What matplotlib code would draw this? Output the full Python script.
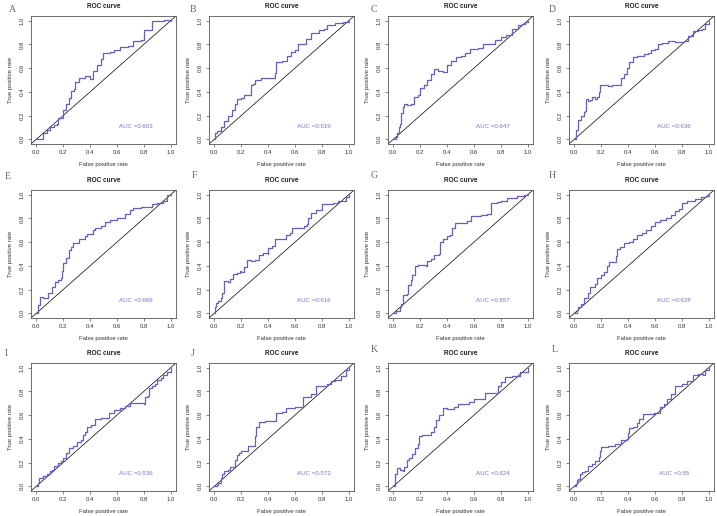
import matplotlib
matplotlib.use("Agg")
import matplotlib.pyplot as plt

W, H = 717, 516
fig = plt.figure(figsize=(W / 100, H / 100), dpi=100)
fig.patch.set_facecolor("white")

letters = ["A", "B", "C", "D", "E", "F", "G", "H", "I", "J", "K", "L"]
auc_labels = ["AUC =0.603", "AUC =0.619", "AUC =0.647", "AUC =0.636",
              "AUC =0.669", "AUC =0.616", "AUC =0.657", "AUC =0.628",
              "AUC =0.536", "AUC =0.572", "AUC =0.624", "AUC =0.55"]

fpr_A = [0, 0.05, 0.05, 0.08, 0.10, 0.13, 0.15, 0.16, 0.20, 0.22, 0.24, 0.26, 0.28, 0.29, 0.32, 0.36, 0.40, 0.42, 0.45, 0.48, 0.50, 0.55, 0.58, 0.62, 0.68, 0.72, 0.78, 0.80, 0.84, 0.86, 0.93, 0.95, 1.0]
tpr_A = [0, 0.00, 0.05, 0.08, 0.10, 0.12, 0.13, 0.18, 0.25, 0.30, 0.35, 0.41, 0.42, 0.48, 0.52, 0.53, 0.51, 0.58, 0.63, 0.68, 0.73, 0.74, 0.75, 0.78, 0.79, 0.83, 0.84, 0.92, 0.92, 1.00, 1.00, 1.01, 1.0]

fpr_B = [0, 0.005, 0.02, 0.05, 0.07, 0.10, 0.13, 0.15, 0.17, 0.20, 0.22, 0.26, 0.27, 0.29, 0.30, 0.35, 0.40, 0.45, 0.46, 0.50, 0.54, 0.57, 0.60, 0.62, 0.66, 0.68, 0.72, 0.78, 0.82, 0.84, 0.90, 0.96, 1.0]
tpr_B = [0, 0.05, 0.07, 0.10, 0.15, 0.20, 0.25, 0.30, 0.34, 0.35, 0.37, 0.37, 0.46, 0.47, 0.50, 0.52, 0.52, 0.56, 0.65, 0.66, 0.70, 0.74, 0.75, 0.80, 0.80, 0.85, 0.90, 0.92, 0.93, 0.96, 0.98, 0.99, 1.0]

fpr_C = [0, 0.02, 0.03, 0.04, 0.05, 0.06, 0.07, 0.08, 0.10, 0.13, 0.15, 0.18, 0.20, 0.23, 0.25, 0.28, 0.30, 0.33, 0.37, 0.40, 0.43, 0.47, 0.50, 0.53, 0.57, 0.63, 0.67, 0.72, 0.76, 0.80, 0.84, 0.88, 0.93, 0.96, 0.98, 1.0]
tpr_C = [0, 0.02, 0.05, 0.10, 0.13, 0.22, 0.27, 0.30, 0.29, 0.30, 0.36, 0.37, 0.43, 0.46, 0.50, 0.55, 0.59, 0.58, 0.57, 0.63, 0.66, 0.69, 0.70, 0.73, 0.76, 0.77, 0.80, 0.80, 0.84, 0.86, 0.88, 0.93, 0.96, 0.97, 0.99, 1.0]

fpr_D = [0, 0.01, 0.015, 0.03, 0.03, 0.05, 0.07, 0.08, 0.085, 0.10, 0.12, 0.13, 0.15, 0.17, 0.18, 0.19, 0.22, 0.25, 0.28, 0.33, 0.35, 0.37, 0.39, 0.41, 0.44, 0.47, 0.50, 0.52, 0.55, 0.57, 0.60, 0.62, 0.65, 0.70, 0.75, 0.80, 0.82, 0.85, 0.88, 0.92, 0.95, 0.97, 1.0]
tpr_D = [0, 0.03, 0.08, 0.10, 0.16, 0.20, 0.23, 0.24, 0.34, 0.32, 0.33, 0.36, 0.34, 0.36, 0.40, 0.46, 0.46, 0.45, 0.46, 0.46, 0.52, 0.55, 0.60, 0.65, 0.69, 0.70, 0.70, 0.72, 0.73, 0.75, 0.76, 0.80, 0.81, 0.83, 0.82, 0.82, 0.83, 0.87, 0.91, 0.92, 0.93, 0.97, 1.0]

fpr_E = [0, 0.01, 0.015, 0.03, 0.03, 0.05, 0.08, 0.09, 0.12, 0.14, 0.16, 0.18, 0.19, 0.20, 0.22, 0.24, 0.26, 0.27, 0.30, 0.32, 0.36, 0.38, 0.42, 0.44, 0.48, 0.51, 0.55, 0.60, 0.65, 0.66, 0.70, 0.72, 0.78, 0.84, 0.86, 0.90, 0.94, 0.97, 0.97, 1.0]
tpr_E = [0, 0.02, 0.07, 0.08, 0.14, 0.13, 0.13, 0.17, 0.22, 0.26, 0.28, 0.30, 0.36, 0.42, 0.47, 0.53, 0.56, 0.59, 0.59, 0.63, 0.65, 0.67, 0.70, 0.72, 0.74, 0.77, 0.79, 0.80, 0.80, 0.84, 0.87, 0.89, 0.90, 0.90, 0.92, 0.93, 0.95, 0.98, 1.00, 1.0]

fpr_F = [0, 0.005, 0.01, 0.03, 0.05, 0.06, 0.07, 0.10, 0.12, 0.14, 0.17, 0.19, 0.20, 0.22, 0.24, 0.27, 0.30, 0.33, 0.36, 0.40, 0.40, 0.43, 0.45, 0.48, 0.53, 0.56, 0.58, 0.62, 0.67, 0.69, 0.70, 0.72, 0.76, 0.80, 0.88, 0.92, 0.98, 1.0]
tpr_F = [0, 0.05, 0.09, 0.10, 0.13, 0.17, 0.27, 0.26, 0.29, 0.33, 0.34, 0.36, 0.35, 0.39, 0.45, 0.44, 0.45, 0.49, 0.51, 0.50, 0.55, 0.57, 0.63, 0.63, 0.66, 0.68, 0.72, 0.72, 0.74, 0.75, 0.80, 0.85, 0.87, 0.92, 0.93, 0.95, 0.98, 1.0]

fpr_G = [0, 0.02, 0.05, 0.06, 0.07, 0.10, 0.11, 0.13, 0.14, 0.16, 0.18, 0.22, 0.24, 0.25, 0.28, 0.30, 0.34, 0.35, 0.37, 0.40, 0.42, 0.44, 0.46, 0.50, 0.55, 0.58, 0.65, 0.70, 0.73, 0.77, 0.80, 0.85, 0.90, 0.92, 0.97, 1.0]
tpr_G = [0, 0.02, 0.05, 0.08, 0.15, 0.16, 0.24, 0.28, 0.32, 0.40, 0.41, 0.41, 0.40, 0.44, 0.46, 0.49, 0.50, 0.60, 0.63, 0.65, 0.66, 0.72, 0.76, 0.76, 0.78, 0.82, 0.83, 0.84, 0.93, 0.94, 0.95, 0.97, 0.97, 0.99, 1.00, 1.0]

fpr_H = [0, 0.02, 0.03, 0.05, 0.07, 0.10, 0.12, 0.15, 0.17, 0.20, 0.22, 0.24, 0.26, 0.30, 0.31, 0.32, 0.34, 0.37, 0.41, 0.44, 0.47, 0.50, 0.53, 0.57, 0.60, 0.64, 0.68, 0.72, 0.75, 0.78, 0.80, 0.84, 0.90, 0.94, 0.98, 1.0]
tpr_H = [0, 0.03, 0.05, 0.08, 0.13, 0.17, 0.22, 0.25, 0.30, 0.32, 0.35, 0.40, 0.43, 0.43, 0.48, 0.54, 0.56, 0.59, 0.60, 0.63, 0.66, 0.68, 0.70, 0.74, 0.77, 0.79, 0.80, 0.83, 0.86, 0.88, 0.93, 0.95, 0.96, 0.98, 0.99, 1.0]

fpr_I = [0, 0.01, 0.02, 0.05, 0.08, 0.10, 0.12, 0.13, 0.16, 0.18, 0.20, 0.22, 0.24, 0.27, 0.30, 0.33, 0.35, 0.36, 0.38, 0.41, 0.44, 0.48, 0.51, 0.54, 0.58, 0.62, 0.66, 0.70, 0.75, 0.80, 0.81, 0.83, 0.84, 0.86, 0.88, 0.90, 0.93, 0.94, 0.97, 1.0]
tpr_I = [0, 0.03, 0.07, 0.09, 0.10, 0.13, 0.14, 0.17, 0.20, 0.21, 0.24, 0.28, 0.32, 0.34, 0.37, 0.39, 0.43, 0.46, 0.50, 0.52, 0.57, 0.58, 0.58, 0.62, 0.64, 0.66, 0.68, 0.70, 0.70, 0.69, 0.75, 0.76, 0.83, 0.85, 0.86, 0.90, 0.91, 0.94, 0.96, 1.0]

fpr_J = [0, 0.02, 0.03, 0.05, 0.06, 0.07, 0.10, 0.12, 0.14, 0.15, 0.17, 0.18, 0.20, 0.24, 0.25, 0.29, 0.30, 0.31, 0.33, 0.38, 0.44, 0.46, 0.50, 0.53, 0.60, 0.64, 0.66, 0.70, 0.72, 0.76, 0.80, 0.84, 0.87, 0.90, 0.94, 0.98, 1.0]
tpr_J = [0, 0.01, 0.03, 0.07, 0.10, 0.13, 0.14, 0.16, 0.16, 0.22, 0.26, 0.28, 0.30, 0.30, 0.34, 0.34, 0.42, 0.50, 0.54, 0.55, 0.55, 0.62, 0.63, 0.66, 0.67, 0.67, 0.75, 0.75, 0.78, 0.85, 0.85, 0.86, 0.89, 0.90, 0.93, 0.98, 1.0]

fpr_K = [0, 0.01, 0.015, 0.03, 0.05, 0.07, 0.08, 0.09, 0.10, 0.12, 0.14, 0.16, 0.18, 0.19, 0.21, 0.25, 0.28, 0.30, 0.32, 0.34, 0.37, 0.40, 0.43, 0.45, 0.48, 0.53, 0.56, 0.60, 0.66, 0.68, 0.72, 0.76, 0.78, 0.80, 0.83, 0.88, 0.94, 1.0]
tpr_K = [0, 0.04, 0.10, 0.15, 0.14, 0.13, 0.16, 0.16, 0.22, 0.24, 0.27, 0.32, 0.36, 0.42, 0.43, 0.43, 0.46, 0.50, 0.56, 0.60, 0.66, 0.65, 0.65, 0.67, 0.69, 0.69, 0.71, 0.74, 0.74, 0.79, 0.79, 0.79, 0.85, 0.88, 0.92, 0.93, 0.96, 1.0]

fpr_L = [0, 0.01, 0.02, 0.03, 0.04, 0.06, 0.08, 0.10, 0.13, 0.15, 0.18, 0.19, 0.20, 0.25, 0.30, 0.35, 0.39, 0.40, 0.41, 0.44, 0.47, 0.48, 0.51, 0.56, 0.59, 0.62, 0.64, 0.67, 0.69, 0.72, 0.75, 0.80, 0.84, 0.88, 0.92, 0.96, 0.97, 1.0]
tpr_L = [0, 0.02, 0.05, 0.06, 0.10, 0.12, 0.13, 0.17, 0.19, 0.21, 0.25, 0.30, 0.33, 0.34, 0.36, 0.39, 0.40, 0.45, 0.49, 0.50, 0.53, 0.57, 0.61, 0.61, 0.62, 0.62, 0.67, 0.69, 0.74, 0.78, 0.85, 0.86, 0.89, 0.94, 0.95, 0.94, 0.98, 1.0]

fprs = [fpr_A, fpr_B, fpr_C, fpr_D, fpr_E, fpr_F, fpr_G, fpr_H, fpr_I, fpr_J, fpr_K, fpr_L]
tprs = [tpr_A, tpr_B, tpr_C, tpr_D, tpr_E, tpr_F, tpr_G, tpr_H, tpr_I, tpr_J, tpr_K, tpr_L]
ticks = [0.0, 0.2, 0.4, 0.6, 0.8, 1.0]
tick_labels = ["0.0", "0.2", "0.4", "0.6", "0.8", "1.0"]

# layout in pixels
col_left = [31, 209, 388, 569]
row_top = [16, 190, 363]
box_w, box_h = 145, 128
letter_pos = [(9, 10), (190, 9), (371, 9), (549, 9),
              (5, 177), (192, 176), (371, 176), (549, 176),
              (5, 354), (191, 354), (371, 349), (552, 349)]

curve_col = "#6a5acd"
auc_col = "#7f70d0"
spine_col = "#555555"
sans = ["Liberation Sans", "DejaVu Sans"]

for i in range(12):
    r, c = divmod(i, 4)
    l = col_left[c] / W
    b = 1 - (row_top[r] + box_h) / H
    ax = fig.add_axes([l, b, box_w / W, box_h / H])
    ax.set_xlim(-0.04, 1.04)
    ax.set_ylim(-0.04, 1.04)
    ax.axline((0, 0), slope=1, color="black", lw=0.5)
    ax.plot(fprs[i], tprs[i], color=curve_col, lw=0.9, drawstyle="steps-post")
    ax.text(0.74, 0.11, auc_labels[i], color=auc_col, fontsize=4.4,
            ha="center", va="center", family=sans)
    ax.set_xticks(ticks)
    ax.set_yticks(ticks)
    ax.set_xticklabels(tick_labels, fontsize=4.3, family=sans, color="#333333")
    ax.set_yticklabels(tick_labels, fontsize=4.3, family=sans, color="#333333",
                       rotation=90, va="center")
    ax.tick_params(direction="out", length=2.5, width=0.5, colors=spine_col,
                   labelcolor="#333333", pad=2)
    for s in ax.spines.values():
        s.set_color(spine_col)
        s.set_linewidth(0.6)
    ax.set_xlabel("False positive rate", fontsize=4.3, family=sans,
                  color="#333333", labelpad=5)
    ax.set_ylabel("True positive rate", fontsize=4.3, family=sans,
                  color="#333333", labelpad=5)
    ax.set_title("ROC curve", fontsize=4.7, fontweight="bold", family=sans,
                 color="#222222", pad=6)
    lx, ly = letter_pos[i]
    fig.text(lx / W, 1 - ly / H, letters[i], fontsize=7, color="#666666",
             family=["Liberation Serif", "DejaVu Serif"], ha="left", va="center")

fig.savefig("out.png", dpi=100, facecolor="white")
